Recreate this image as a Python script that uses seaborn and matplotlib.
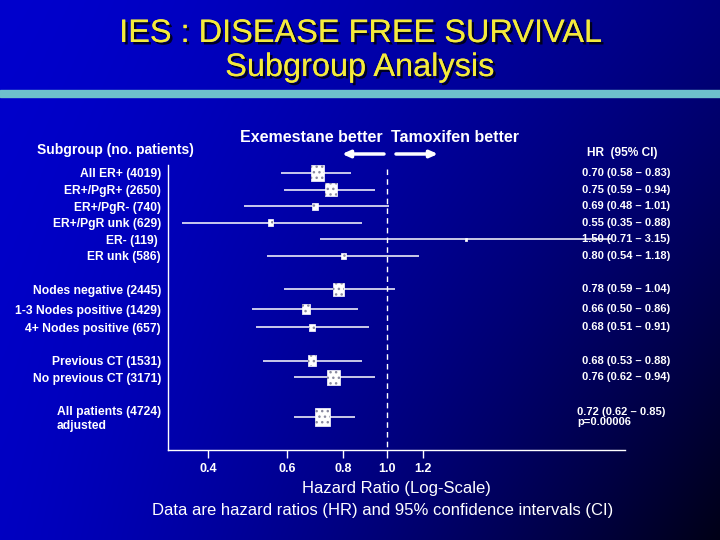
import numpy as np
import pandas as pd
import seaborn as sns
import matplotlib
matplotlib.use("Agg")
import matplotlib.pyplot as plt
import matplotlib.patheffects as pe
from matplotlib.ticker import FixedLocator, NullLocator

# subgroup data
labels = ["All ER+ (4019)", "ER+/PgR+ (2650)", "ER+/PgR- (740)", "ER+/PgR unk (629)",
          "ER- (119) ", "ER unk (586)", "Nodes negative (2445)",
          "1-3 Nodes positive (1429)", "4+ Nodes positive (657)",
          "Previous CT (1531)", "No previous CT (3171)",
          "All patients (4724)\nadjusted"]
patients = [4019, 2650, 740, 629, 119, 586, 2445, 1429, 657, 1531, 3171, 4724]
hr = [0.70, 0.75, 0.69, 0.55, 1.50, 0.80, 0.78, 0.66, 0.68, 0.68, 0.76, 0.72]
ci_lo = [0.58, 0.59, 0.48, 0.35, 0.71, 0.54, 0.59, 0.50, 0.51, 0.53, 0.62, 0.62]
ci_hi = [0.83, 0.94, 1.01, 0.88, 3.15, 1.18, 1.04, 0.86, 0.91, 0.88, 0.94, 0.85]
p_adjusted = "p=0.00006"
xticks = [0.4, 0.6, 0.8, 1.0, 1.2]

# row layout (groups separated by gaps)
rows = [0, 1, 2, 3, 4, 5, 7, 8.2, 9.3, 11.3, 12.3, 14.7]

df = pd.DataFrame({"label": labels, "n": patients, "hr": hr,
                   "lo": ci_lo, "hi": ci_hi, "row": rows})

sns.set_style("white")
plt.rcParams["font.family"] = ["Liberation Sans", "DejaVu Sans"]

W, H = 720, 540
fig = plt.figure(figsize=(7.2, 5.4), dpi=100)

def fx(px):
    return px / W

def fy(py):
    return 1 - py / H

# background gradient
bg = fig.add_axes([0, 0, 1, 1], zorder=-10)
gx, gy = np.meshgrid(np.linspace(0, 1, 300), np.linspace(0, 1, 225))
blue = 205 - 80 * gx ** 1.4 - 12 * gy - 90 * (gx * gy) ** 1.2
img = np.dstack([np.zeros_like(blue), np.zeros_like(blue), np.clip(blue, 0, 255) / 255])
bg.imshow(img, extent=[0, 1, 0, 1], aspect="auto", origin="upper")
bg.axis("off")

# title
shadow = [pe.withSimplePatchShadow(offset=(1.8, -1.8), shadow_rgbFace="black", alpha=0.8), pe.Normal()]
fig.text(0.5, fy(34), "IES : DISEASE FREE SURVIVAL", ha="center", va="center",
         color="#f4ea3c", fontsize=23.4, path_effects=shadow)
fig.text(0.5, fy(68), "Subgroup Analysis", ha="center", va="center",
         color="#f4ea3c", fontsize=23.4, path_effects=shadow)
bg.axhspan(fy(97), fy(90), color="#6ec0cc")

# forest plot axes
ax = fig.add_axes([fx(168), fy(450), fx(457), 285 / H])
ax.set_facecolor("none")
ax.set_xscale("log")
ax.set_xlim(0.3253, 3.389)
ax.set_ylim(16.69, -0.48)

ax.hlines(df["row"], df["lo"], df["hi"], color="white", lw=1.1, zorder=2)
ax.vlines(1.0, -0.25, 16.69, color="white", lw=1, linestyles=(0, (4, 3)), zorder=1)

box = [(-0.83, -1), (0.83, -1), (0.83, 1), (-0.83, 1), (-0.83, -1)]
sns.scatterplot(data=df, x="hr", y="row", size="n", sizes=(0, 170), size_norm=(0, 4724),
                marker=box, color="white", edgecolor="white", linewidth=0.5,
                legend=False, ax=ax, zorder=3)
sns.scatterplot(data=df, x="hr", y="row", size="n", sizes=(0, 170), size_norm=(0, 4724),
                marker=box, facecolor="none", edgecolor="#8a8aa0", linewidth=0,
                hatch="...", legend=False, ax=ax, zorder=4)

for s in ["top", "right"]:
    ax.spines[s].set_visible(False)
for s in ["left", "bottom"]:
    ax.spines[s].set_color("white")
    ax.spines[s].set_linewidth(1)

ax.xaxis.set_major_locator(FixedLocator(xticks))
ax.xaxis.set_minor_locator(NullLocator())
ax.set_xticklabels([f"{t:.1f}" for t in xticks])
ax.tick_params(axis="x", colors="white", length=6, width=1, direction="out", pad=3,
               labelsize=9, bottom=True)
for t in ax.get_xticklabels():
    t.set_fontweight("bold")

ax.set_yticks(rows)
ax.set_yticklabels(labels)
ax.tick_params(axis="y", length=0, pad=5, colors="white", left=False)
for t in ax.get_yticklabels():
    t.set_fontweight("bold")
    t.set_fontsize(8.7)
    t.set_multialignment("left")
ax.set_xlabel("")
ax.set_ylabel("")

# HR (95% CI) column
ytr = ax.get_yaxis_transform()
for i, r in df.iterrows():
    txt = f"{r.hr:.2f} ({r.lo:.2f} \u2013 {r.hi:.2f})"
    xpos = 582
    if i == len(df) - 1:
        txt += "\n" + p_adjusted
        xpos = 577
    ax.text((xpos - 168) / 457, r.row, txt, transform=ytr, ha="left", va="center",
            color="white", fontsize=8, fontweight="bold",
            multialignment="left", linespacing=1.1, clip_on=False)

# headers
fig.text(fx(37), fy(150), "Subgroup (no. patients)", ha="left", va="center",
         color="white", fontsize=10, fontweight="bold")
fig.text(fx(587), fy(153), "HR  (95% CI)", ha="left", va="center",
         color="white", fontsize=8.6, fontweight="bold")
fig.text(fx(383), fy(137), "Exemestane better", ha="right", va="center",
         color="white", fontsize=11.5, fontweight="bold")
fig.text(fx(391), fy(137), "Tamoxifen better", ha="left", va="center",
         color="white", fontsize=11.5, fontweight="bold")
arrow = dict(arrowstyle="-|>,head_length=0.45,head_width=0.2", color="white", lw=2.5,
             shrinkA=0, shrinkB=0)
bg.annotate("", xy=(fx(342), fy(154)), xytext=(fx(384), fy(154)),
            xycoords="axes fraction", arrowprops=arrow)
bg.annotate("", xy=(fx(438), fy(154)), xytext=(fx(396), fy(154)),
            xycoords="axes fraction", arrowprops=arrow)

# footer
fig.text(fx(396), fy(488), "Hazard Ratio (Log-Scale)", ha="center", va="center",
         color="white", fontsize=12)
fig.text(fx(383), fy(511), "Data are hazard ratios (HR) and 95% confidence intervals (CI)",
         ha="center", va="center", color="white", fontsize=12)

fig.savefig("out.png", dpi=100)
